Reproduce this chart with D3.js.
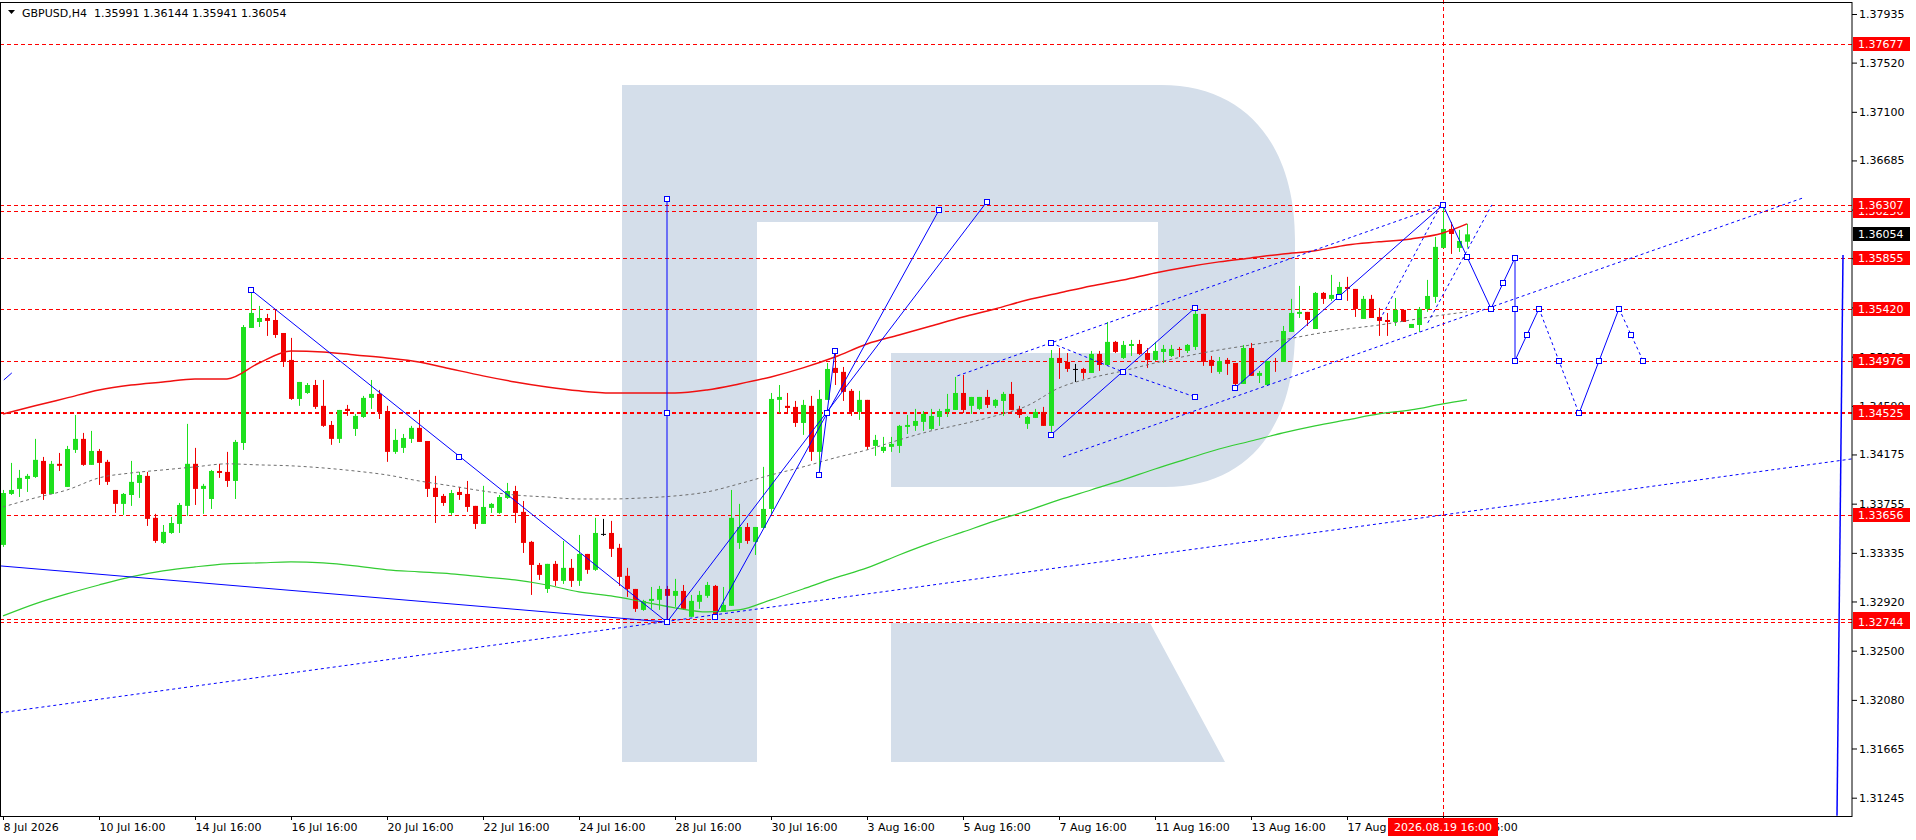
<!DOCTYPE html>
<html>
<head>
<meta charset="utf-8">
<script src="https://cdn.jsdelivr.net/npm/d3@7"></script>
<style>
  body { margin: 0; background: #fff; overflow: hidden; }
  svg text { font-family: "DejaVu Sans", Verdana, sans-serif; font-size: 11px; }
</style>
</head>
<body>
<div class="graph"></div>
<script>

// ---- data -----------------------------------------------------------------
// bar index 0 = 8 Jul 2026 16:00, one bar = 4 hours

var open = [1.33403,1.33838,1.33881,1.33966,1.33983,1.34120,1.33838,1.34095,1.33898,1.34214,
    1.34308,1.34086,1.34205,1.34112,1.33872,1.33753,1.33829,1.33932,1.33992,1.33634,
    1.33420,1.33505,1.33582,1.33736,1.34095,1.33881,1.33795,1.34034,1.34026,1.33949,
    1.34273,1.35255,1.35306,1.35340,1.35323,1.35212,1.34982,1.34649,1.34700,1.34768,
    1.34590,1.34427,1.34308,1.34564,1.34393,1.34495,1.34658,1.34692,1.34546,1.34197,
    1.34231,1.34308,1.34402,1.34290,1.33890,1.33821,1.33676,1.33855,1.33838,1.33736,
    1.33582,1.33719,1.33676,1.33804,1.33863,1.33685,1.33429,1.33232,1.33027,1.33241,
    1.33096,1.33207,1.33096,1.33326,1.33190,1.33497,1.33505,1.33378,1.33139,1.33027,
    1.32848,1.32925,1.32934,1.33027,1.32968,1.33010,1.32789,1.32917,1.32968,1.33053,
    1.32831,1.32883,1.33420,1.33556,1.33429,1.33548,1.33710,1.34641,1.34590,1.34581,
    1.34444,1.34590,1.34197,1.34641,1.34914,1.34880,1.34718,1.34538,1.34641,1.34248,
    1.34205,1.34240,1.34248,1.34410,1.34419,1.34453,1.34393,1.34495,1.34538,1.34555,
    1.34700,1.34590,1.34564,1.34666,1.34590,1.34632,1.34692,1.34564,1.34436,1.34487,
    1.34538,1.34419,1.34999,1.34965,1.34905,1.34905,1.34871,1.35033,1.34939,1.35136,
    1.34999,1.35101,1.35118,1.35041,1.34982,1.35050,1.35016,1.35076,1.35059,1.35093,
    1.35375,1.34982,1.34880,1.34982,1.34956,1.34777,1.35084,1.34846,1.34768,1.34973,
    1.34965,1.35221,1.35375,1.35392,1.35246,1.35554,1.35503,1.35537,1.35605,1.35588,
    1.35332,1.35503,1.35349,1.35323,1.35306,1.35409,1.35255,1.35280,1.35417,1.35520,
    1.35938,1.36100,1.35938,1.35991];

var high = [1.33872,1.34103,1.34043,1.34009,1.34308,1.34154,1.34120,1.34188,1.34248,1.34512,
    1.34359,1.34376,1.34222,1.34129,1.33872,1.33846,1.34120,1.34026,1.34026,1.33668,
    1.33573,1.33642,1.33761,1.34436,1.34231,1.33924,1.34043,1.34095,1.34197,1.34299,
    1.35280,1.35571,1.35443,1.35375,1.35417,1.35212,1.35170,1.34794,1.34785,1.34811,
    1.34811,1.34461,1.34555,1.34598,1.34521,1.34675,1.34811,1.34726,1.34590,1.34393,
    1.34350,1.34419,1.34555,1.34290,1.33992,1.33838,1.33872,1.33898,1.33949,1.33736,
    1.33907,1.33761,1.33829,1.33932,1.33907,1.33778,1.33437,1.33249,1.33241,1.33266,
    1.33437,1.33283,1.33488,1.33326,1.33634,1.33625,1.33608,1.33412,1.33207,1.33027,
    1.32934,1.33044,1.33053,1.33053,1.33113,1.33061,1.32976,1.33010,1.33087,1.33061,
    1.33044,1.33872,1.33753,1.33590,1.33556,1.34069,1.34700,1.34768,1.34700,1.34632,
    1.34641,1.34675,1.34726,1.34956,1.35050,1.34922,1.34734,1.34718,1.34641,1.34342,
    1.34325,1.34325,1.34427,1.34512,1.34564,1.34546,1.34564,1.34564,1.34692,1.34837,
    1.34854,1.34666,1.34666,1.34726,1.34649,1.34709,1.34794,1.34590,1.34504,1.34564,
    1.34581,1.35067,1.35084,1.35041,1.34948,1.34914,1.35059,1.35059,1.35306,1.35144,
    1.35144,1.35153,1.35153,1.35084,1.35136,1.35110,1.35110,1.35093,1.35118,1.35409,
    1.35375,1.35016,1.35007,1.34999,1.34956,1.35110,1.35127,1.34888,1.34973,1.34999,
    1.35272,1.35503,1.35614,1.35392,1.35562,1.35562,1.35708,1.35648,1.35691,1.35588,
    1.35528,1.35537,1.35426,1.35383,1.35511,1.35409,1.35289,1.35434,1.35665,1.36032,
    1.36307,1.36160,1.36092,1.36144];

var low = [1.33386,1.33829,1.33812,1.33855,1.33975,1.33787,1.33838,1.34034,1.33898,1.34188,
    1.34078,1.34086,1.33915,1.33915,1.33676,1.33659,1.33736,1.33804,1.33565,1.33420,
    1.33412,1.33497,1.33505,1.33651,1.33744,1.33668,1.33710,1.33975,1.33898,1.33795,
    1.34214,1.35255,1.35263,1.35187,1.35170,1.34922,1.34641,1.34590,1.34692,1.34564,
    1.34410,1.34257,1.34273,1.34504,1.34333,1.34487,1.34564,1.34478,1.34112,1.34180,
    1.34188,1.34273,1.34282,1.33812,1.33590,1.33736,1.33659,1.33787,1.33685,1.33539,
    1.33582,1.33676,1.33668,1.33795,1.33590,1.33334,1.32976,1.33104,1.32993,1.33053,
    1.33070,1.33044,1.33053,1.33156,1.33181,1.33480,1.33300,1.33053,1.32959,1.32831,
    1.32840,1.32857,1.32848,1.32744,1.32874,1.32848,1.32789,1.32857,1.32951,1.32789,
    1.32831,1.32883,1.33369,1.33412,1.33317,1.33548,1.33659,1.34529,1.34529,1.34410,
    1.34342,1.34120,1.34000,1.34641,1.34768,1.34632,1.34504,1.34470,1.34214,1.34163,
    1.34188,1.34197,1.34188,1.34350,1.34376,1.34376,1.34385,1.34419,1.34495,1.34555,
    1.34529,1.34521,1.34555,1.34572,1.34572,1.34504,1.34555,1.34487,1.34393,1.34487,
    1.34419,1.34342,1.34820,1.34880,1.34794,1.34820,1.34871,1.34888,1.34939,1.35041,
    1.34990,1.35016,1.35024,1.34914,1.34973,1.34956,1.35007,1.35007,1.35041,1.35067,
    1.34931,1.34871,1.34863,1.34854,1.34743,1.34777,1.34846,1.34785,1.34760,1.34880,
    1.34965,1.35221,1.35340,1.35272,1.35246,1.35460,1.35486,1.35520,1.35486,1.35349,
    1.35332,1.35340,1.35187,1.35187,1.35272,1.35306,1.35255,1.35221,1.35392,1.35469,
    1.35938,1.35887,1.35904,1.35941];

var close = [1.33846,1.33872,1.33975,1.33992,1.34129,1.33838,1.34095,1.34078,1.34222,1.34308,
    1.34086,1.34205,1.34103,1.33941,1.33753,1.33838,1.33941,1.34000,1.33625,1.33437,
    1.33514,1.33590,1.33744,1.34095,1.33881,1.33907,1.34034,1.34017,1.33949,1.34282,
    1.35263,1.35383,1.35340,1.35315,1.35195,1.34965,1.34649,1.34794,1.34768,1.34581,
    1.34419,1.34308,1.34555,1.34546,1.34504,1.34658,1.34692,1.34538,1.34197,1.34299,
    1.34316,1.34402,1.34282,1.33881,1.33812,1.33761,1.33846,1.33829,1.33727,1.33582,
    1.33727,1.33753,1.33812,1.33863,1.33676,1.33420,1.33232,1.33147,1.33241,1.33096,
    1.33207,1.33096,1.33326,1.33190,1.33505,1.33497,1.33369,1.33130,1.33027,1.32857,
    1.32925,1.32942,1.33027,1.32968,1.33010,1.32857,1.32925,1.32976,1.33061,1.32814,
    1.32891,1.33634,1.33556,1.33437,1.33556,1.33710,1.34649,1.34666,1.34572,1.34444,
    1.34598,1.34197,1.34649,1.34905,1.34871,1.34709,1.34538,1.34641,1.34240,1.34299,
    1.34240,1.34265,1.34419,1.34427,1.34461,1.34521,1.34504,1.34546,1.34564,1.34700,
    1.34555,1.34666,1.34666,1.34598,1.34641,1.34692,1.34555,1.34512,1.34495,1.34538,
    1.34419,1.34999,1.34956,1.34905,1.34905,1.34871,1.35033,1.34939,1.35136,1.35050,
    1.35110,1.35118,1.35033,1.34982,1.35059,1.35076,1.35076,1.35067,1.35110,1.35375,
    1.34965,1.34931,1.34973,1.34948,1.34777,1.35084,1.34846,1.34871,1.34973,1.34965,
    1.35229,1.35383,1.35392,1.35323,1.35554,1.35503,1.35537,1.35605,1.35588,1.35417,
    1.35503,1.35340,1.35315,1.35306,1.35409,1.35306,1.35289,1.35417,1.35528,1.35947,
    1.36100,1.36057,1.35998,1.36054];

// moving averages, read every 4 bars
var maIndex = [0,4,8,12,16,20,24,28,32,36,40,44,48,52,56,60,64,68,72,76,80,84,88,92,
    96,100,104,108,112,116,120,124,128,132,136,140,144,148,152,156,160,164,168,172,176,180,183];
var maRed = [1.34521,1.34590,1.34658,1.34726,1.34768,1.34794,1.34820,1.34820,1.34956,1.35059,
    1.35050,1.35024,1.34999,1.34965,1.34905,1.34846,1.34794,1.34751,1.34718,1.34700,
    1.34700,1.34700,1.34726,1.34777,1.34837,1.34914,1.35007,1.35118,1.35195,1.35272,
    1.35349,1.35417,1.35494,1.35554,1.35614,1.35665,1.35725,1.35776,1.35819,1.35853,
    1.35887,1.35913,1.35964,1.35990,1.36015,1.36066,1.36143];
var maGreen = [1.32797,1.32900,1.32985,1.33061,1.33130,1.33181,1.33215,1.33241,1.33249,1.33258,
    1.33249,1.33224,1.33190,1.33173,1.33156,1.33130,1.33104,1.33061,1.33002,1.32968,
    1.32917,1.32866,1.32831,1.32848,1.32934,1.33027,1.33121,1.33207,1.33317,1.33420,
    1.33514,1.33608,1.33693,1.33787,1.33872,1.33958,1.34051,1.34137,1.34222,1.34290,
    1.34359,1.34419,1.34470,1.34521,1.34555,1.34607,1.34641];
var maGray = [1.33727,1.33804,1.33872,1.33975,1.34017,1.34043,1.34069,1.34095,1.34086,1.34078,
    1.34060,1.34034,1.34000,1.33949,1.33907,1.33863,1.33829,1.33812,1.33795,1.33795,
    1.33804,1.33821,1.33855,1.33924,1.34000,1.34069,1.34146,1.34214,1.34299,1.34376,
    1.34436,1.34504,1.34590,1.34743,1.34828,1.34888,1.34956,1.35016,1.35067,1.35110,
    1.35153,1.35204,1.35246,1.35280,1.35323,1.35366,1.35392];

// axis labels
var timeTickIndex = [0,12,24,36,48,60,72,84,96,108,120,132,144,156,168,180];
var timeTickText = ["8 Jul 2026","10 Jul 16:00","14 Jul 16:00","16 Jul 16:00","20 Jul 16:00",
    "22 Jul 16:00","24 Jul 16:00","28 Jul 16:00","30 Jul 16:00","3 Aug 16:00","5 Aug 16:00",
    "7 Aug 16:00","11 Aug 16:00","13 Aug 16:00","17 Aug 16:00","19 Aug 16:00"];
var priceTicks = [1.37935,1.37520,1.37100,1.36685,1.36265,1.35850,1.35430,1.35010,1.34590,
    1.34175,1.33755,1.33335,1.32920,1.32500,1.32080,1.31665,1.31245];

// horizontal levels (drawn in this order, later labels sit on top)
var levels = [1.37677,1.36256,1.36307,1.35855,1.35420,1.34976,1.34536,1.34525,1.33656,1.32771,1.32744];
var lastPrice = 1.36054;
var markedBar = 180;               // 2026.08.19 16:00
var markedBarText = "2026.08.19 16:00";
var header = "GBPUSD,H4  1.35991 1.36144 1.35941 1.36054";

// analyst drawings: [bar index, price]
var solidPaths = [
    [[-0.4,1.33224],[83,1.32744]],
    [[31,1.35580],[83,1.32744]],
    [[83,1.32744],[83,1.36356]],
    [[83,1.32744],[123,1.36334]],
    [[89,1.32789],[117,1.36261]],
    [[102,1.34000],[104,1.35059]],
    [[131,1.34342],[149,1.35426]],
    [[154,1.34743],[180,1.36305],[186,1.35420],[189,1.35855],[189,1.34976],[192,1.35420]],
    [[197,1.34525],[202,1.35420]],
    [[0.1,1.34811],[1.1,1.34871]]
];
var rightEdgeLine = [[230,1.35878],[229.25,1.31090]];
var dottedPaths = [
    [[-0.4,1.31969],[231.1,1.34137]],
    [[119.3,1.34846],[180,1.36305]],
    [[132.5,1.34154],[225,1.36365]],
    [[131,1.35127],[140,1.34880],[149,1.34666]],
    [[192,1.35420],[197,1.34525]],
    [[202,1.35420],[205,1.34976]],
    [[172.1,1.35323],[179.6,1.36288]],
    [[178.1,1.35298],[186.1,1.36305]]
];
var markerPoints = [[31,1.35580],[57,1.34154],[83,1.32744],[83,1.34529],[83,1.36356],
    [123,1.36334],[89,1.32789],[117,1.36261],[102,1.34000],[103,1.34529],[104,1.35059],
    [131,1.35127],[140,1.34880],[149,1.34666],[131,1.34342],[149,1.35426],[154,1.34743],
    [167,1.35520],[180,1.36305],[183,1.35862],[186,1.35420],[187.5,1.35639],[189,1.35855],
    [189,1.35416],[189,1.34976],[190.5,1.35198],[192,1.35420],[194.5,1.34972],[197,1.34525],
    [199.5,1.34972],[202,1.35420],[203.5,1.35198],[205,1.34976]];

// ---- layout -----------------------------------------------------------------

var W = 1916, H = 840;
var plotW = 1852, plotH = 816;     // price axis on the right, time axis below

var svg = d3.select(".graph").append("svg")
    .attr("width", W)
    .attr("height", H);

// x: bar index -> pixel, 8 px per bar
var x = d3.scaleLinear().domain([0, 230]).range([3, 3 + 8 * 230]);
// y: price -> pixel
var y = d3.scaleLinear().domain([1.31245, 1.37935]).range([797.7, 14]);

svg.append("defs").append("clipPath").attr("id", "plot")
    .append("rect").attr("x", 0).attr("y", 0).attr("width", plotW).attr("height", plotH);

var plot = svg.append("g").attr("clip-path", "url(#plot)");

// watermark logo
var logo = "M622,85 H1161 C1250,85 1295,150 1295,240 L1295,330 C1295,425 1250,487 1165,487 " +
    "H891 V353 H1158 V222 H757 V762 H622 Z M891,623 H1150 L1225,762 H891 Z";
plot.append("path").attr("d", logo).attr("fill", "#d4deea");

// horizontal levels and the marked bar
plot.selectAll(".level").data(levels).enter().append("line")
    .attr("class", "level")
    .attr("x1", 0).attr("x2", plotW)
    .attr("y1", function(d) { return Math.round(y(d)) + 0.5; })
    .attr("y2", function(d) { return Math.round(y(d)) + 0.5; })
    .attr("stroke", "#ff0000")
    .attr("stroke-dasharray", "4,3");

plot.append("line")
    .attr("x1", x(markedBar) + 0.5).attr("x2", x(markedBar) + 0.5)
    .attr("y1", 0).attr("y2", plotH)
    .attr("stroke", "#ff0000")
    .attr("stroke-dasharray", "4,3");

// candles
var bars = d3.range(open.length);
function candleColor(i) {
    if (close[i] > open[i]) return "#1ee01e";
    if (close[i] < open[i]) return "#f00000";
    return "#000";
}

var candle = plot.selectAll(".candle").data(bars).enter().append("g").attr("class", "candle");
candle.append("line")
    .attr("x1", function(i) { return x(i) + 0.5; })
    .attr("x2", function(i) { return x(i) + 0.5; })
    .attr("y1", function(i) { return y(high[i]); })
    .attr("y2", function(i) { return y(low[i]); })
    .attr("stroke", candleColor);
candle.append("rect")
    .attr("x", function(i) { return x(i) - 2; })
    .attr("width", 5)
    .attr("y", function(i) { return y(Math.max(open[i], close[i])); })
    .attr("height", function(i) { return Math.max(1, Math.abs(y(open[i]) - y(close[i]))); })
    .attr("fill", candleColor);

// moving averages
function maLine(values) {
    return d3.line()
        .x(function(d, i) { return x(maIndex[i]); })
        .y(function(d) { return y(d); })
        .curve(d3.curveMonotoneX)(values);
}
plot.append("path").attr("d", maLine(maGray)).attr("fill", "none")
    .attr("stroke", "#6e6e6e").attr("stroke-dasharray", "3,3");
plot.append("path").attr("d", maLine(maRed)).attr("fill", "none")
    .attr("stroke", "#f01010").attr("stroke-width", 1.5);
plot.append("path").attr("d", maLine(maGreen)).attr("fill", "none")
    .attr("stroke", "#33cc33").attr("stroke-width", 1.2);

// drawings
var drawLine = d3.line()
    .x(function(d) { return x(d[0]); })
    .y(function(d) { return y(d[1]); });

plot.selectAll(".solid").data(solidPaths).enter().append("path")
    .attr("d", drawLine).attr("fill", "none").attr("stroke", "#0000ff");
plot.selectAll(".dotted").data(dottedPaths).enter().append("path")
    .attr("d", drawLine).attr("fill", "none").attr("stroke", "#0000ff")
    .attr("stroke-dasharray", "3,3");
plot.append("path").attr("d", drawLine(rightEdgeLine)).attr("fill", "none")
    .attr("stroke", "#0000ff").attr("stroke-width", 1.5);
plot.selectAll(".marker").data(markerPoints).enter().append("rect")
    .attr("x", function(d) { return Math.round(x(d[0])) - 2.5; })
    .attr("y", function(d) { return Math.round(y(d[1])) - 2.5; })
    .attr("width", 5).attr("height", 5)
    .attr("fill", "#fff").attr("stroke", "#0000ff");

// frame
svg.append("rect").attr("x", 0.5).attr("y", 2.5).attr("width", plotW - 0.5).attr("height", plotH - 2)
    .attr("fill", "none").attr("stroke", "#000");

// price axis
var yAxis = d3.axisRight(y).tickValues(priceTicks).tickSize(5).tickPadding(2)
    .tickFormat(d3.format(".5f"));
var ya = svg.append("g").attr("transform", "translate(" + plotW + ",0)").call(yAxis);
ya.select(".domain").remove();
ya.selectAll("text").attr("font-family", null).attr("font-size", null).attr("fill", "#000");

// time axis
var xAxis = d3.axisBottom(x).tickValues(timeTickIndex).tickSize(4).tickPadding(3)
    .tickFormat(function(d, i) { return timeTickText[i]; });
var xa = svg.append("g").attr("transform", "translate(0," + plotH + ")").call(xAxis);
xa.select(".domain").remove();
xa.selectAll("text").attr("font-family", null).attr("font-size", null)
    .attr("text-anchor", "start").attr("fill", "#000");

// price labels of the levels
function priceTag(p, bg) {
    var g = svg.append("g").attr("transform", "translate(" + (plotW + 1) + "," + Math.round(y(p)) + ")");
    g.append("rect").attr("x", 0).attr("y", -7).attr("width", 57).attr("height", 14).attr("fill", bg);
    g.append("text").attr("x", 5).attr("y", 4).attr("fill", "#fff").text(d3.format(".5f")(p));
}
levels.forEach(function(p) { priceTag(p, "#ff0000"); });
priceTag(lastPrice, "#000");

// marked time label
var tg = svg.append("g").attr("transform", "translate(" + x(markedBar) + "," + plotH + ")");
tg.append("rect").attr("x", -55).attr("y", 2).attr("width", 110).attr("height", 18).attr("fill", "#ff0000");
tg.append("text").attr("x", 0).attr("y", 15).attr("text-anchor", "middle").attr("fill", "#fff").text(markedBarText);

// header
svg.append("path").attr("d", "M8,10 L15,10 L11.5,14 Z").attr("fill", "#000");
svg.append("text").attr("x", 22).attr("y", 17).style("white-space", "pre").attr("fill", "#000").text(header);

</script>
</body>
</html>
